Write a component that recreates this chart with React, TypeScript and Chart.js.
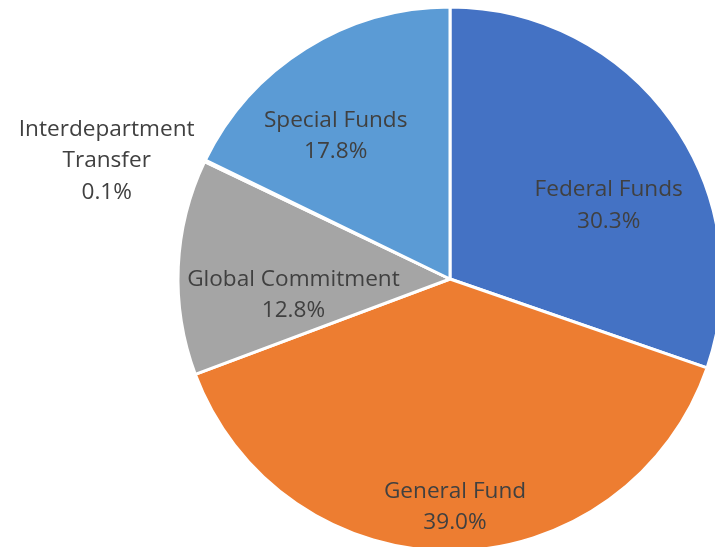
import React, { useEffect, useRef } from "react";
import { Chart, registerables } from "chart.js";

Chart.register(...registerables);

const categories = ["Federal Funds", "General Fund", "Global Commitment", "Interdepartment Transfer", "Special Funds"];
const labelLines = [["Federal Funds"], ["General Fund"], ["Global Commitment"], ["Interdepartment", "Transfer"], ["Special Funds"]];
const shares = [30.3, 39.0, 12.8, 0.1, 17.8];
const colors = ["#4472C4", "#ED7D31", "#A5A5A5", "#FFC000", "#5B9BD5"];
// label placement: angle (deg, clockwise from top) and fraction of radius
const labelAngle = [64.75, 178.73, 264.76, 289.26, 321.7];
const labelRadius = [0.645, 0.832, 0.578, 1.337, 0.678];

const FONT_SIZE = 22.6;
const LINE_H = 31.5;

const labelPlugin = {
  id: "sliceLabels",
  afterDatasetsDraw(chart: any) {
    const ctx = chart.ctx;
    const meta = chart.getDatasetMeta(0);
    ctx.save();
    ctx.font = `${FONT_SIZE}px "Open Sans"`;
    ctx.fillStyle = "#404040";
    ctx.textAlign = "center";
    ctx.textBaseline = "alphabetic";
    const capH = FONT_SIZE * 0.714;
    meta.data.forEach((arc: any, i: number) => {
      const R = arc.outerRadius;
      const a = (labelAngle[i] * Math.PI) / 180;
      const cx = arc.x + labelRadius[i] * R * Math.sin(a);
      const cy = arc.y - labelRadius[i] * R * Math.cos(a);
      const lines = [...labelLines[i], shares[i].toFixed(1) + "%"];
      const n = lines.length;
      lines.forEach((t, j) => {
        const y = cy + (j - (n - 1) / 2) * LINE_H + capH / 2;
        ctx.fillText(t, cx, y);
      });
    });
    ctx.restore();
  },
};

export default function App() {
  const ref = useRef<HTMLCanvasElement | null>(null);
  useEffect(() => {
    if (!ref.current) return;
    const chart = new Chart(ref.current, {
      type: "pie",
      data: {
        labels: categories,
        datasets: [
          {
            data: shares,
            backgroundColor: colors,
            borderColor: "#ffffff",
            borderWidth: 3,
            clip: false,
          } as any,
        ],
      },
      options: {
        responsive: false,
        animation: false,
        devicePixelRatio: 1,
        radius: 272,
        layout: { padding: { left: 185, top: 11, right: 0, bottom: 0 } },
        plugins: { legend: { display: false }, tooltip: { enabled: false } },
      } as any,
      plugins: [labelPlugin],
    });
    return () => chart.destroy();
  }, []);
  return (
    <canvas
      ref={ref}
      width={715}
      height={547}
      style={{ position: "fixed", left: 0, top: 0, width: 715, height: 547, background: "#fff" }}
    />
  );
}
